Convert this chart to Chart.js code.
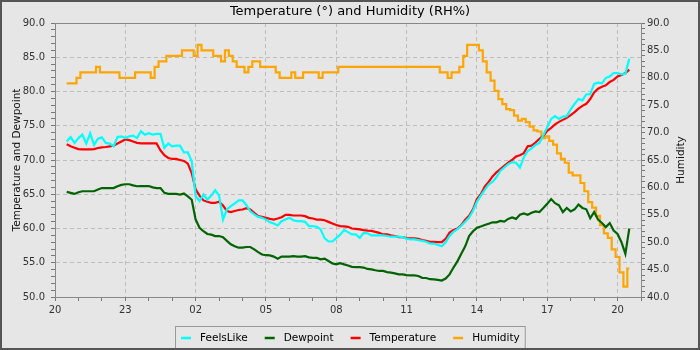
<!DOCTYPE html>
<html>
<head>
<meta charset="utf-8">
<script src="https://cdn.jsdelivr.net/npm/chart.js@4.4.0/dist/chart.umd.min.js"></script>
<style>
  html, body { margin: 0; padding: 0; background: #e6e6e6; }
  #wrap { width: 700px; height: 350px; position: relative; }
</style>
</head>
<body>
<div id="wrap"><canvas id="chart"></canvas></div>
<script>
// readings every 10 minutes, starting 20:30 (hours counted from 20:00)
const startClock = 20;
const firstHour = 0.5;
const stepHours = 1 / 6;

const feelsLike = [
  72.7, 73.35, 72.5, 73.2, 73.7, 72.4, 73.9, 72.2, 73.1, 73.3, 72.5, 72.4,
  72.0, 73.35, 73.45, 73.2, 73.45, 73.55, 73.2, 74.2, 73.7, 73.9, 73.7, 73.8,
  73.8, 71.75, 72.4, 72.0, 72.1, 72.1, 71.1, 71.1, 69.8, 64.7, 64.0, 64.96,
  64.2, 64.8, 65.6, 64.8, 61.3, 62.77, 63.26, 63.65, 64.1, 64.1, 63.4, 62.5,
  62.05, 61.7, 61.56, 61.3, 60.9, 60.73, 60.45, 61.07, 61.3, 61.56, 61.2, 61.07,
  61.07, 60.97, 60.35, 60.35, 60.25, 59.86, 58.6, 58.1, 58.1, 58.6, 59.1, 59.76,
  59.47, 59.13, 59.13, 58.64, 59.37, 59.3, 59.0, 59.0, 59.0, 59.0, 58.9, 58.8,
  58.8, 58.8, 58.74, 58.5, 58.4, 58.4, 58.3, 58.2, 58.06, 57.8, 57.8, 57.6,
  57.4, 58.0, 58.9, 59.5, 59.9, 60.4, 61.0, 61.6, 62.6, 63.9, 64.8, 65.65,
  66.4, 66.8, 67.5, 68.4, 68.9, 69.4, 69.7, 69.6, 68.9, 70.4, 71.3, 71.7,
  72.2, 72.5, 73.6, 74.8, 76.0, 76.4, 76.0, 76.35, 76.4, 77.4, 78.2, 78.9,
  78.7, 79.6, 79.6, 81.1, 81.3, 81.2, 82.0, 82.2, 82.7, 82.7, 82.5, 82.6,
  84.8
];
const dewpoint = [
  65.35, 65.2, 65.05, 65.3, 65.44, 65.44, 65.44, 65.44, 65.7, 65.9, 65.9, 65.9,
  65.9, 66.17, 66.36, 66.46, 66.46, 66.3, 66.17, 66.2, 66.2, 66.2, 66.0, 65.9,
  65.9, 65.2, 65.05, 65.05, 65.05, 64.95, 65.1, 64.7, 64.2, 61.3, 60.1, 59.6,
  59.2, 59.1, 58.9, 58.9, 58.74, 58.2, 57.7, 57.4, 57.2, 57.2, 57.3, 57.3,
  56.95, 56.55, 56.2, 56.1, 56.07, 55.9, 55.6, 55.9, 55.9, 55.9, 55.97, 55.9,
  55.9, 55.97, 55.78, 55.7, 55.7, 55.5, 55.6, 55.25, 54.9, 54.76, 54.95, 54.76,
  54.6, 54.4, 54.37, 54.37, 54.3, 54.1, 54.03, 53.9, 53.8, 53.8, 53.64, 53.55,
  53.45, 53.3, 53.3, 53.2, 53.16, 53.16, 53.06, 52.8, 52.77, 52.6, 52.58, 52.5,
  52.4, 52.7, 53.3, 54.3, 55.2, 56.3, 57.4, 58.9, 59.6, 60.1, 60.3, 60.5,
  60.7, 60.9, 60.9, 61.1, 61.0, 61.4, 61.6, 61.4, 62.0, 62.2, 62.0, 62.3,
  62.5, 62.4, 63.0, 63.6, 64.3, 63.7, 63.4, 62.4, 63.0, 62.5, 62.8, 63.5,
  63.0, 62.8, 61.5, 62.4, 61.3, 60.8, 60.2, 60.8, 59.7, 59.2, 58.0, 56.3,
  60.0
];
const temperature = [
  72.3, 72.0, 71.8, 71.6, 71.56, 71.56, 71.56, 71.6, 71.75, 71.85, 71.9, 72.0,
  72.1, 72.4, 72.7, 73.0, 72.9, 72.7, 72.5, 72.43, 72.43, 72.43, 72.43, 72.43,
  71.4, 70.7, 70.3, 70.15, 70.15, 70.0, 69.86, 69.47, 68.1, 65.7, 64.8, 64.1,
  63.9, 63.74, 63.74, 63.9, 63.35, 62.56, 62.4, 62.56, 62.7, 62.77, 62.96, 62.77,
  62.3, 61.8, 61.7, 61.56, 61.4, 61.3, 61.46, 61.65, 62.0, 62.0, 61.9, 61.9,
  61.9, 61.8, 61.56, 61.46, 61.3, 61.3, 61.2, 60.97, 60.73, 60.5, 60.34, 60.3,
  60.25, 60.0, 59.95, 59.86, 59.76, 59.7, 59.66, 59.5, 59.37, 59.13, 59.13, 59.0,
  58.9, 58.74, 58.74, 58.6, 58.55, 58.55, 58.5, 58.3, 58.2, 58.06, 58.06, 58.0,
  58.0, 58.5, 59.4, 59.8, 60.0, 60.5, 61.27, 61.85, 62.8, 64.3, 65.0, 66.1,
  66.8, 67.6, 68.2, 68.66, 69.15, 69.6, 70.0, 70.5, 70.7, 71.0, 72.0, 72.1,
  72.55, 73.1, 73.5, 74.26, 74.7, 75.2, 75.57, 75.86, 76.15, 76.55, 77.0, 77.5,
  77.9, 78.2, 78.9, 79.85, 80.4, 80.7, 80.9, 81.4, 81.7, 82.2, 82.4, 82.7,
  83.2
];
const humidity = [
  79, 79, 79, 80, 81, 81, 81, 81, 82, 81, 81, 81,
  81, 81, 80, 80, 80, 80, 81, 81, 81, 81, 80, 82,
  83, 83, 84, 84, 84, 84, 85, 85, 85, 84, 86, 85,
  85, 85, 84, 84, 83, 85, 84, 83, 82, 82, 81, 82,
  83, 83, 82, 82, 82, 82, 81, 80, 80, 80, 81, 80,
  80, 81, 81, 81, 81, 80, 81, 81, 81, 81, 82, 82,
  82, 82, 82, 82, 82, 82, 82, 82, 82, 82, 82, 82,
  82, 82, 82, 82, 82, 82, 82, 82, 82, 82, 82, 82,
  81, 81, 80, 81, 81, 82, 84, 86, 86, 86, 85, 83,
  81, 79.5, 77.6, 76.1, 75.2, 74.3, 74.1, 73.1, 72.2, 72.5, 71.9, 71.1,
  70.4, 70.2, 69.0, 69.3, 68.5, 67.8, 66.2, 65.2, 64.5, 62.7, 62.2, 62.2,
  60.8, 59.3, 57.3, 56.3, 54.8, 53.1, 51.6, 50.8, 48.7, 47.3, 44.5, 41.9,
  45.2
];

const times = temperature.map((_, i) => firstHour + i * stepHours);
const toPoints = vals => vals.map((v, i) => ({ x: times[i], y: v }));

const FONT = 'DejaVu Sans';
const GRID = '#bdbdbd';
const TICK = '#777';

// background, frame, top plot edge, right axis title and the boxed legend
const frame = {
  id: 'frame',
  beforeDraw(chart) {
    const { ctx, width, height } = chart;
    ctx.save();
    ctx.fillStyle = '#e6e6e6';
    ctx.fillRect(0, 0, width, height);
    ctx.restore();
  },
  afterDraw(chart) {
    const { ctx, chartArea: a, width, height } = chart;
    ctx.save();
    ctx.strokeStyle = '#888';
    ctx.lineWidth = 1;
    ctx.beginPath();
    ctx.moveTo(a.left, a.top + 0.5);
    ctx.lineTo(a.right, a.top + 0.5);
    ctx.stroke();

    ctx.fillStyle = '#111';
    ctx.font = '10.5px "' + FONT + '"';
    ctx.textAlign = 'center';
    ctx.textBaseline = 'middle';
    ctx.translate(681, (a.top + a.bottom) / 2);
    ctx.rotate(-Math.PI / 2);
    ctx.fillText('Humidity', 0, 0);
    ctx.restore();

    // legend
    ctx.save();
    ctx.font = '10.5px "' + FONT + '"';
    const items = chart.data.datasets.map(d => ({ label: d.label, color: d.borderColor, w: ctx.measureText(d.label).width }));
    const lineW = 10, textGap = 9, itemGap = 17;
    const total = items.reduce((s, it) => s + lineW + textGap + it.w, 0) + itemGap * (items.length - 1);
    let x = Math.round(width / 2 - total / 2);
    const yMid = 338;
    ctx.strokeStyle = '#999';
    ctx.lineWidth = 1;
    ctx.strokeRect(x - 5.5, 326.5, total + 11, 23);
    ctx.textBaseline = 'middle';
    ctx.textAlign = 'left';
    items.forEach(it => {
      ctx.strokeStyle = it.color;
      ctx.lineWidth = 2.5;
      ctx.beginPath();
      ctx.moveTo(x, yMid);
      ctx.lineTo(x + lineW, yMid);
      ctx.stroke();
      ctx.fillStyle = '#000';
      ctx.fillText(it.label, x + lineW + textGap, yMid);
      x += lineW + textGap + it.w + itemGap;
    });

    ctx.strokeStyle = '#555';
    ctx.lineWidth = 2;
    ctx.strokeRect(1, 1, width - 2, height - 2);
    ctx.restore();
  }
};

new Chart(document.getElementById('chart'), {
  type: 'line',
  data: {
    datasets: [
      { label: 'FeelsLike', data: toPoints(feelsLike), borderColor: '#00ffff', backgroundColor: '#00ffff', yAxisID: 'y' },
      { label: 'Dewpoint', data: toPoints(dewpoint), borderColor: '#006400', backgroundColor: '#006400', yAxisID: 'y' },
      { label: 'Temperature', data: toPoints(temperature), borderColor: '#ff0000', backgroundColor: '#ff0000', yAxisID: 'y' },
      { label: 'Humidity', data: toPoints(humidity), borderColor: '#ffa500', backgroundColor: '#ffa500', yAxisID: 'y1', stepped: 'middle' }
    ]
  },
  options: {
    responsive: true,
    maintainAspectRatio: false,
    animation: false,
    layout: { padding: { left: 0, right: 0, top: 0, bottom: 26 } },
    elements: {
      point: { radius: 0 },
      line: { borderWidth: 2.2, tension: 0 }
    },
    plugins: {
      legend: { display: false },
      tooltip: { enabled: false },
      title: {
        display: true,
        text: 'Temperature (°) and Humidity (RH%)',
        color: '#000',
        font: { family: FONT, size: 13, weight: 'normal' },
        padding: { top: 4, bottom: 3.4 }
      }
    },
    scales: {
      x: {
        type: 'linear',
        min: 0,
        max: 25,
        afterFit: s => { s.height = 27; },
        ticks: {
          stepSize: 1,
          autoSkip: false,
          maxRotation: 0,
          padding: 3,
          color: '#333',
          font: { family: FONT, size: 10 },
          callback: v => v % 3 === 0 ? String((startClock + v) % 24).padStart(2, '0') : ''
        },
        grid: {
          color: c => c.tick && c.tick.value % 3 === 0 ? GRID : 'rgba(0,0,0,0)',
          tickColor: TICK,
          tickLength: 4
        },
        border: { color: '#888', dash: [4, 3] }
      },
      y: {
        position: 'left',
        min: 50,
        max: 90,
        afterFit: s => { s.width = 55; },
        title: {
          display: true,
          text: 'Temperature and Dewpoint',
          color: '#111',
          font: { family: FONT, size: 10.5 },
          padding: { top: 10.7, bottom: 0 }
        },
        ticks: {
          stepSize: 1,
          autoSkip: false,
          padding: 6,
          color: '#333',
          font: { family: FONT, size: 10 },
          callback: v => v % 5 === 0 ? v.toFixed(1) : ''
        },
        grid: {
          color: c => c.tick && c.tick.value % 5 === 0 ? GRID : 'rgba(0,0,0,0)',
          tickColor: TICK,
          tickLength: 4
        },
        border: { color: '#888', dash: [4, 3] }
      },
      y1: {
        position: 'right',
        min: 40,
        max: 90,
        afterFit: s => { s.width = 59; },
        ticks: {
          stepSize: 1,
          autoSkip: false,
          padding: 2,
          color: '#333',
          font: { family: FONT, size: 10 },
          callback: v => v % 5 === 0 ? v.toFixed(1) : ''
        },
        grid: {
          drawOnChartArea: false,
          tickColor: TICK,
          tickLength: 4
        },
        border: { color: '#888' }
      }
    }
  },
  plugins: [frame]
});
</script>
</body>
</html>
